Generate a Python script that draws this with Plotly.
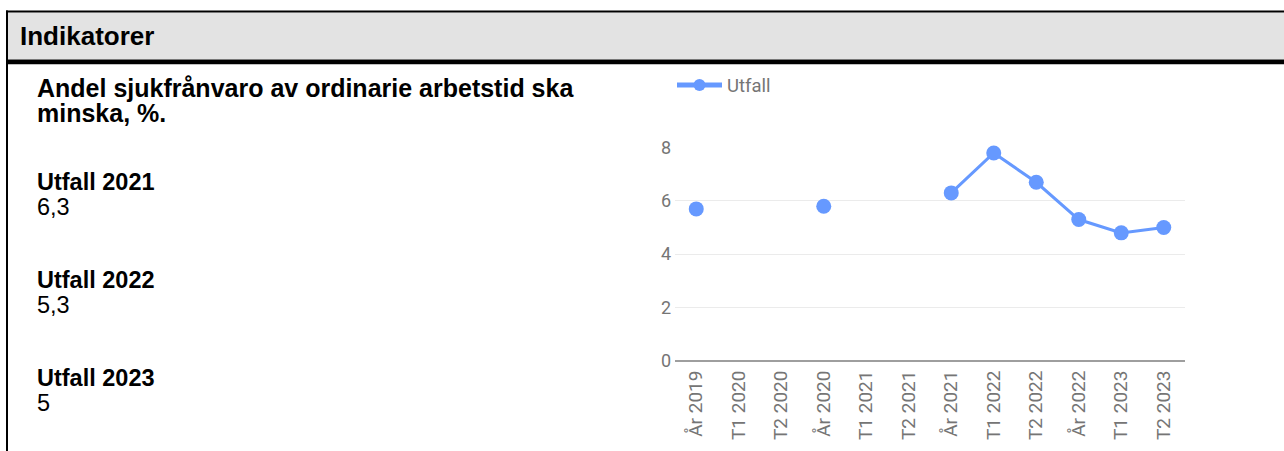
import plotly.graph_objects as go

W, H = 1284, 462

categories = ["År 2019", "T1 2020", "T2 2020", "År 2020", "T1 2021", "T2 2021",
              "År 2021", "T1 2022", "T2 2022", "År 2022", "T1 2023", "T2 2023"]
utfall = [5.7, None, None, 5.8, None, None, 6.3, 7.8, 6.7, 5.3, 4.8, 5.0]
y_ticks = [0, 2, 4, 6, 8]

header_text = "Indikatorer"
title_lines = ["Andel sjukfrånvaro av ordinarie arbetstid ska", "minska, %."]
summary_labels = ["Utfall 2021", "Utfall 2022", "Utfall 2023"]
summary_values = ["6,3", "5,3", "5"]

BLUE = "#6699FF"
GRAY_TXT = "#757575"
LEFT_FONT = "Liberation Sans, Arial, sans-serif"
CHART_FONT = "Roboto, sans-serif"

# Vertical positions below are given as measured on the reference picture;
# the captured picture maps page y to roughly 0.955 * y + 10.6, so undo that.
V_SCALE, V_OFF = 0.955, 10.6


def px(x):
    return x / W


def py(y_ref):
    return 1 - ((y_ref - V_OFF) / V_SCALE) / H


fig = go.Figure()
fig.add_trace(go.Scatter(
    x=categories, y=utfall, name="Utfall", mode="lines+markers",
    line=dict(color=BLUE, width=3), marker=dict(color=BLUE, size=15),
    connectgaps=False, cliponaxis=False,
))

shapes = []
def rect(x0, y0, x1, y1, color, bottom=None):
    shapes.append(dict(type="rect", xref="paper", yref="paper",
                       x0=px(x0), x1=px(x1),
                       y0=py(y1) if bottom is None else bottom, y1=py(y0),
                       fillcolor=color, line=dict(width=0), layer="below"))

rect(7, 12, W, 59, "#e3e3e3")
rect(6, 10, W, 12, "#000000")
rect(6, 59, W, 64, "#000000")
rect(6, 10, 8, H, "#000000", bottom=0)

annotations = []
def text(t, x, y, size, color="#000000", font=LEFT_FONT):
    annotations.append(dict(
        text=t, x=px(x), y=py(y), xref="paper", yref="paper",
        xanchor="left", yanchor="middle", align="left", showarrow=False,
        font=dict(family=font, size=size, color=color)))


def sized(t, size, bold=False):
    inner = f"<b>{t}</b>" if bold else t
    return f"<span style='font-size:{size}px'>{inner}</span>"


# the annotation's own font size sets the line pitch (1.3 em); spans set glyph size
text(sized(header_text, 26, True), 18, 36, 26)
text("<br>".join(sized(t, 25, True) for t in title_lines), 35, 100.5, 19.5)
for i, (lab, val) in enumerate(zip(summary_labels, summary_values)):
    mid = 194 + i * 98
    text(sized(lab, 23.5, True) + "<br>" + sized(val, 23.5), 35, mid, 19)

fig.update_layout(
    width=W, height=H, margin=dict(l=0, r=0, t=0, b=0),
    paper_bgcolor="white", plot_bgcolor="white",
    font=dict(family=CHART_FONT, color=GRAY_TXT),
    shapes=shapes, annotations=annotations,
    showlegend=True,
    legend=dict(x=px(672), y=py(85), xanchor="left", yanchor="middle",
                orientation="h", itemwidth=45,
                font=dict(size=18.5, color=GRAY_TXT, family=CHART_FONT),
                itemsizing="constant", bgcolor="rgba(0,0,0,0)"),
    xaxis=dict(domain=[px(675), px(1185)], type="category",
               categoryorder="array", categoryarray=categories,
               range=[-0.5, len(categories) - 0.5],
               tickangle=-90, showgrid=False, showline=False, zeroline=False,
               ticks="", ticklabelstandoff=5,
               tickfont=dict(size=19, color=GRAY_TXT, family=CHART_FONT),
               fixedrange=True),
    yaxis=dict(domain=[py(360.5), py(147.3)], range=[0, 8], tickvals=y_ticks,
               showgrid=True, gridcolor="#ebebeb", gridwidth=1,
               zeroline=True, zerolinecolor="#9e9e9e", zerolinewidth=2,
               showline=False, ticks="", ticklabelstandoff=3,
               tickfont=dict(size=18, color=GRAY_TXT, family=CHART_FONT),
               fixedrange=True),
)

fig.write_html("out.html", config={"displayModeBar": False, "responsive": False},
               post_script="document.body.style.margin='0';")
